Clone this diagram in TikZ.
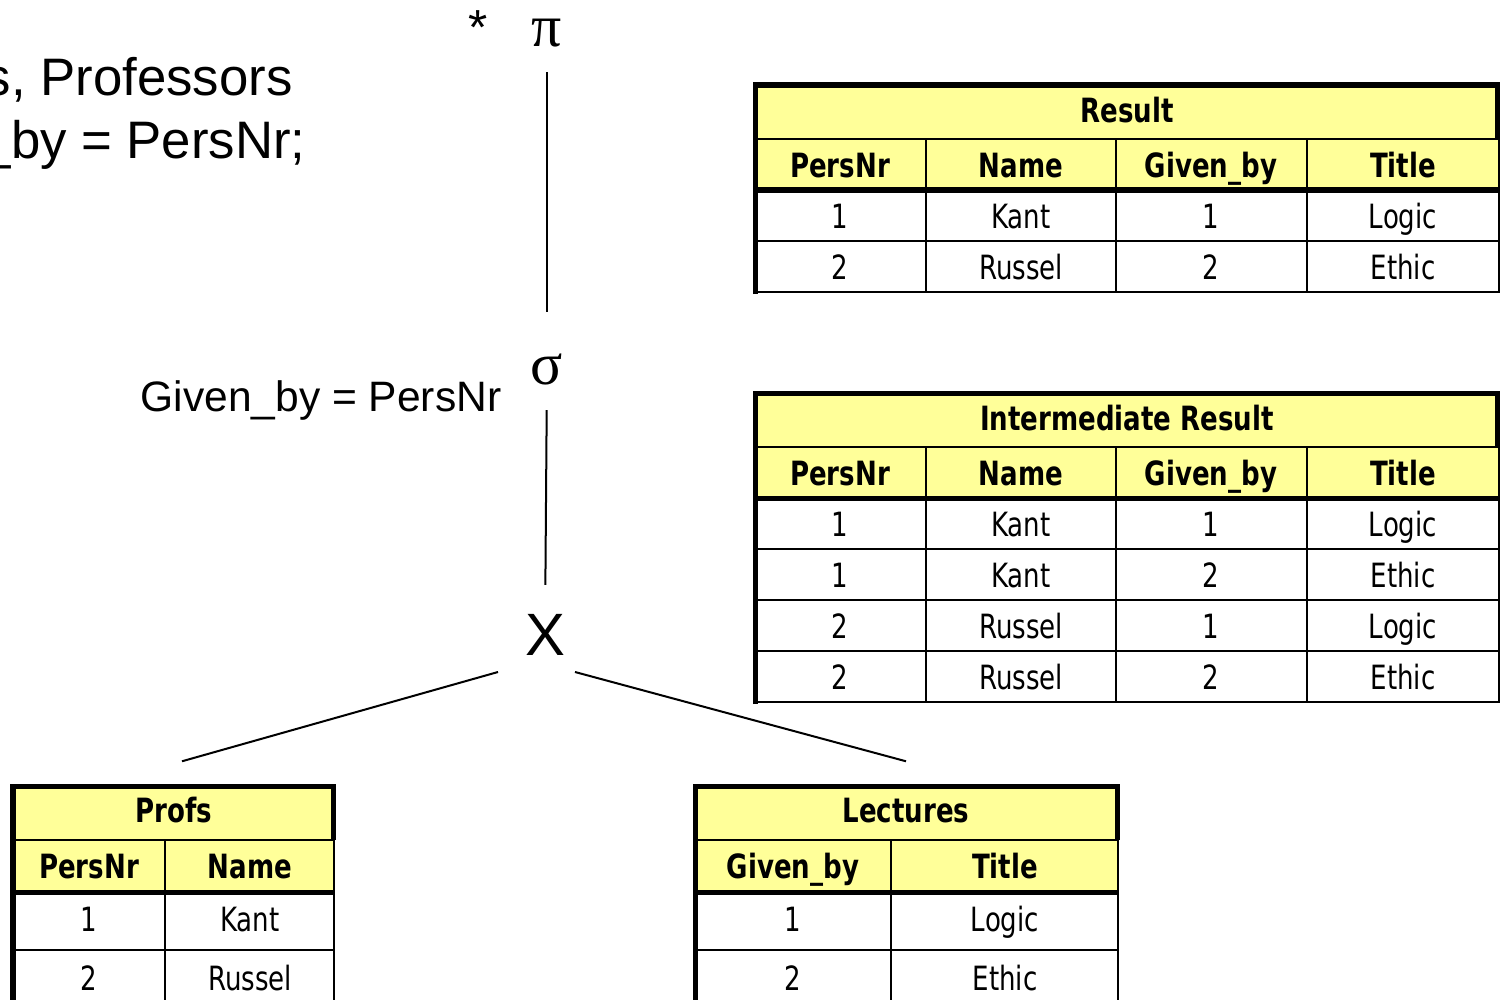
\documentclass[tikz,border=0pt]{standalone}
\usepackage{fontspec}
\setmainfont{Liberation Sans}
\newfontfamily\tabfont[FakeStretch=0.78]{DejaVu Sans}
\newfontfamily\grkfont{Liberation Serif}
\usepackage{tikz}
\usetikzlibrary{calc}
\usetikzlibrary{positioning}
\definecolor{tabyellow}{RGB}{255,255,153}

\begin{document}
\begin{tikzpicture}[
x=0.01cm,y=-0.01cm,
ThinLine/.style={draw=black,line width=0.02cm},
ThickLine/.style={draw=black,line width=0.05cm},
TitleCell/.style={fill=tabyellow,inner sep=0,text height=0.25cm,text depth=0.04cm,font=\fontsize{9.5}{11}\tabfont\bfseries},
HeadText/.style={anchor=base,inner sep=0,font=\fontsize{9.5}{11}\tabfont\bfseries},
CellText/.style={anchor=base,inner sep=0,font=\fontsize{9.5}{11}\tabfont},
Operator/.style={inner sep=0},
Edge/.style={black,line width=0.02cm}
]
\useasboundingbox (0,0) rectangle (1505,1000);
\clip (0,0) rectangle (1505,1000);

% query text (cut at the left border)
\node[anchor=base west,inner sep=0,font=\fontsize{15}{18}\selectfont] (sqlfrom) at (-16,95) {s, Professors};
\node[anchor=base west,inner sep=0,font=\fontsize{15}{18}\selectfont] (sqlwhere) at (-19,158) {\_by = PersNr;};

% operator tree
\node[Operator,font=\fontsize{14}{16}\selectfont] (star) at (478,28) {*};
\node[Operator,font=\fontsize{17}{20}\grkfont] (pi) at (547,33) {π};
\node[Operator,font=\fontsize{17}{20}\grkfont] (sigma) at (547,369) {σ};
\node[Operator,font=\fontsize{17}{20}\selectfont] (cross) at (545,635) {X};
\node[anchor=base east,inner sep=0,font=\fontsize{12.1}{15}\selectfont] (cond) at (502,411) {Given\_by = PersNr};

% ---------------- Result ----------------
\fill[tabyellow] (755,85) rectangle (1499,190);
\node[TitleCell,minimum width=7.4cm,minimum height=0.54cm] (res) at (1127,112) {Result};
\foreach \x/\t [count=\c] in {840/PersNr,1021/Name,1211/Given\_by,1403/Title}
  \node[HeadText] (res-h\c) at (\x,177) {\t};
\foreach \y/\a/\b/\e/\f [count=\r] in {228/1/Kant/1/Logic,279/2/Russel/2/Ethic}{
  \node[CellText] (res-\r-1) at (840,\y) {\a};
  \node[CellText] (res-\r-2) at (1021,\y) {\b};
  \node[CellText] (res-\r-3) at (1211,\y) {\e};
  \node[CellText] (res-\r-4) at (1403,\y) {\f};
}
\draw[ThinLine] (755,139) -- (1499,139);
\draw[ThinLine] (755,241) -- (1499,241);
\draw[ThinLine] (755,292) -- (1499,292) -- (1499,139);
\foreach \x in {926,1116,1307}
  \draw[ThinLine] (\x,139) -- (\x,292);
\draw[ThickLine] (755,294) -- (755,85) -- (1497,85) -- (1497,139);
\draw[ThickLine] (753,190) -- (1500,190);

% ---------------- Intermediate Result ----------------
\fill[tabyellow] (755,393) rectangle (1499,498);
\node[TitleCell,minimum width=7.4cm,minimum height=0.54cm] (inter) at (1127,420) {Intermediate Result};
\foreach \x/\t [count=\c] in {840/PersNr,1021/Name,1211/Given\_by,1403/Title}
  \node[HeadText] (inter-h\c) at (\x,485) {\t};
\foreach \y/\a/\b/\e/\f [count=\r] in {536/1/Kant/1/Logic,587/1/Kant/2/Ethic,638/2/Russel/1/Logic,689/2/Russel/2/Ethic}{
  \node[CellText] (inter-\r-1) at (840,\y) {\a};
  \node[CellText] (inter-\r-2) at (1021,\y) {\b};
  \node[CellText] (inter-\r-3) at (1211,\y) {\e};
  \node[CellText] (inter-\r-4) at (1403,\y) {\f};
}
\draw[ThinLine] (755,447) -- (1499,447);
\foreach \y in {549,600,651}
  \draw[ThinLine] (755,\y) -- (1499,\y);
\draw[ThinLine] (755,702) -- (1499,702) -- (1499,447);
\foreach \x in {926,1116,1307}
  \draw[ThinLine] (\x,447) -- (\x,702);
\draw[ThickLine] (755,704) -- (755,393) -- (1497,393) -- (1497,447);
\draw[ThickLine] (753,498) -- (1500,498);

% ---------------- Profs ----------------
\fill[tabyellow] (13,786) rectangle (334,892);
\node[TitleCell,minimum width=3.21cm,minimum height=0.54cm] (profs) at (174,812) {Profs};
\foreach \x/\t [count=\c] in {89/PersNr,250/Name}
  \node[HeadText] (profs-h\c) at (\x,878) {\t};
\foreach \y/\a/\b [count=\r] in {931/1/Kant,990/2/Russel}{
  \node[CellText] (profs-\r-1) at (89,\y) {\a};
  \node[CellText] (profs-\r-2) at (250,\y) {\b};
}
\draw[ThinLine] (13,840) -- (334,840);
\draw[ThinLine] (13,950) -- (334,950);
\draw[ThinLine] (334,840) -- (334,1010);
\draw[ThinLine] (165,840) -- (165,1010);
\draw[ThickLine] (13,1010) -- (13,786) -- (333,786) -- (333,840);
\draw[ThickLine] (11,892) -- (335,892);

% ---------------- Lectures ----------------
\fill[tabyellow] (695,786) rectangle (1118,892);
\node[TitleCell,minimum width=4.21cm,minimum height=0.54cm] (lect) at (906,812) {Lectures};
\foreach \x/\t [count=\c] in {793/Given\_by,1005/Title}
  \node[HeadText] (lect-h\c) at (\x,878) {\t};
\foreach \y/\a/\b [count=\r] in {931/1/Logic,990/2/Ethic}{
  \node[CellText] (lect-\r-1) at (793,\y) {\a};
  \node[CellText] (lect-\r-2) at (1005,\y) {\b};
}
\draw[ThinLine] (695,840) -- (1118,840);
\draw[ThinLine] (695,950) -- (1118,950);
\draw[ThinLine] (1118,840) -- (1118,1010);
\draw[ThinLine] (891,840) -- (891,1010);
\draw[ThickLine] (695,1010) -- (695,786) -- (1117,786) -- (1117,840);
\draw[ThickLine] (693,892) -- (1119,892);

% edges of the tree
\draw[Edge,shorten <=0.39cm,shorten >=0.57cm] (pi.center) -- (sigma.center);
\draw[Edge,shorten <=0.41cm,shorten >=0.50cm] (sigma.center) -- (cross.center);
\draw[Edge] ([shift={(-47,37)}]cross.center) -- ([shift={(8,-23)}]profs.north);
\draw[Edge] ([shift={(30,37)}]cross.center) -- ([shift={(0,-23)}]lect.north);

\end{tikzpicture}
\end{document}
